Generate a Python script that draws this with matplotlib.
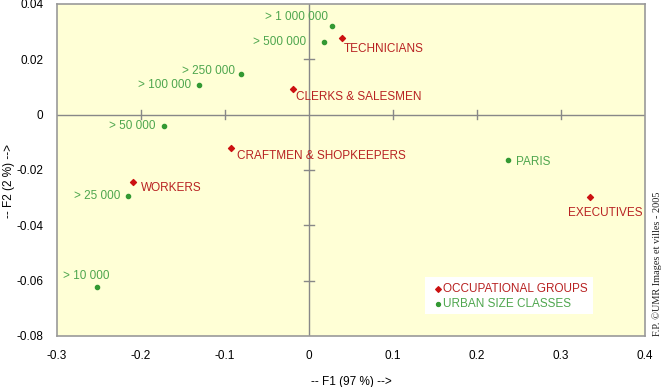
import matplotlib
matplotlib.use("Agg")
import matplotlib.pyplot as plt

plt.rcParams["font.family"] = ["Liberation Sans", "DejaVu Sans"]

# occupational groups (red)
occ_names = ["TECHNICIANS", "CLERKS & SALESMEN", "CRAFTMEN & SHOPKEEPERS", "WORKERS", "EXECUTIVES"]
occ_f1 = [0.039, -0.0195, -0.0926, -0.2094, 0.3353]
occ_f2 = [0.0278, 0.0094, -0.0120, -0.0244, -0.0299]

# urban size classes (green)
urb_names = ["> 1 000 000", "> 500 000", "> 250 000", "> 100 000", "> 50 000", "> 25 000", "> 10 000", "PARIS"]
urb_f1 = [0.027, 0.0174, -0.0807, -0.131, -0.1725, -0.2154, -0.253, 0.237]
urb_f2 = [0.0320, 0.0264, 0.0147, 0.0106, -0.0042, -0.0295, -0.0624, -0.0166]

RED = "#cc1111"
RED_TXT = "#b82222"
GREEN = "#339933"
GREEN_TXT = "#4ea64e"

fig = plt.figure(figsize=(6.64, 3.87), dpi=100)
ax = fig.add_axes([0.086, 0.132, 0.885, 0.858])
ax.set_facecolor("#ffffd6")
ax.set_xlim(-0.3, 0.4)
ax.set_ylim(-0.08, 0.04)
for s in ax.spines.values():
    s.set_color("#999999")
    s.set_linewidth(1.2)
ax.tick_params(length=0, labelsize=8.5, pad=10)
ax.set_xticks([-0.3, -0.2, -0.1, 0, 0.1, 0.2, 0.3, 0.4])
ax.set_xticklabels(["-0.3", "-0.2", "-0.1", "0", "0.1", "0.2", "0.3", "0.4"])
ax.set_yticks([-0.08, -0.06, -0.04, -0.02, 0, 0.02, 0.04])
ax.set_yticklabels(["-0.08", "-0.06", "-0.04", "-0.02", "0", "0.02", "0.04"])

# axes through origin with cross ticks
ax.axhline(0, color="#888888", lw=1, zorder=1)
ax.axvline(0, color="#888888", lw=1, zorder=1)
for xt in [-0.2, -0.1, 0.1, 0.2, 0.3]:
    ax.plot([xt, xt], [-0.0015, 0.0015], color="#888888", lw=1, zorder=1)
for yt in [-0.06, -0.04, -0.02, 0.02]:
    ax.plot([-0.006, 0.006], [yt, yt], color="#888888", lw=1, zorder=1)

ax.scatter(occ_f1, occ_f2, marker="D", s=9, color=RED, zorder=3)
ax.scatter(urb_f1, urb_f2, marker="o", s=9, color=GREEN, zorder=3)

# labels
occ_off = [(0.003, -0.0041, "left"), (0.0044, -0.003, "left"), (0.0068, -0.0029, "left"),
           (0.009, -0.0023, "left"), (0.018, -0.0056, "center")]
for n, x, y, (dx, dy, ha) in zip(occ_names, occ_f1, occ_f2, occ_off):
    ax.text(x + dx, y + dy, n, color=RED_TXT, fontsize=8.5, ha=ha, va="center")

urb_off = [(-0.004, 0.0034, "right"), (-0.0206, 0.0, "right"), (-0.007, 0.0011, "right"),
           (-0.0093, 0.0, "right"), (-0.0107, 0.0, "right"), (-0.0095, 0.0, "right"),
           (-0.0127, 0.0041, "center"), (0.010, -0.0007, "left")]
for n, x, y, (dx, dy, ha) in zip(urb_names, urb_f1, urb_f2, urb_off):
    ax.text(x + dx, y + dy, n, color=GREEN_TXT, fontsize=8.5, ha=ha, va="center")

# legend box
ax.add_patch(plt.Rectangle((0.1386, -0.0721), 0.1999, 0.0135, facecolor="white",
                           edgecolor="none", zorder=4))
ax.scatter([0.1533], [-0.063], marker="D", s=8, color=RED, zorder=5)
ax.scatter([0.1533], [-0.0683], s=8, color=GREEN, zorder=5)
ax.text(0.1597, -0.063, "OCCUPATIONAL GROUPS", color=RED_TXT, fontsize=8.5, va="center", zorder=5)
ax.text(0.1597, -0.0683, "URBAN SIZE CLASSES", color=GREEN_TXT, fontsize=8.5, va="center", zorder=5)

ax.set_xlabel("-- F1 (97 %) -->", fontsize=8.5, labelpad=10)
ax.set_ylabel("-- F2 (2 %) -->", fontsize=8.5)
ax.yaxis.set_label_coords(-0.072, 0.467)

fig.text(0.99, 0.318, "F.P. \u00a9UMR Images et villes - 2005", rotation=90, fontsize=7.4,
         family=["Liberation Serif", "DejaVu Serif"], ha="center", va="center", color="#222222")

fig.savefig("out.png", dpi=100)
